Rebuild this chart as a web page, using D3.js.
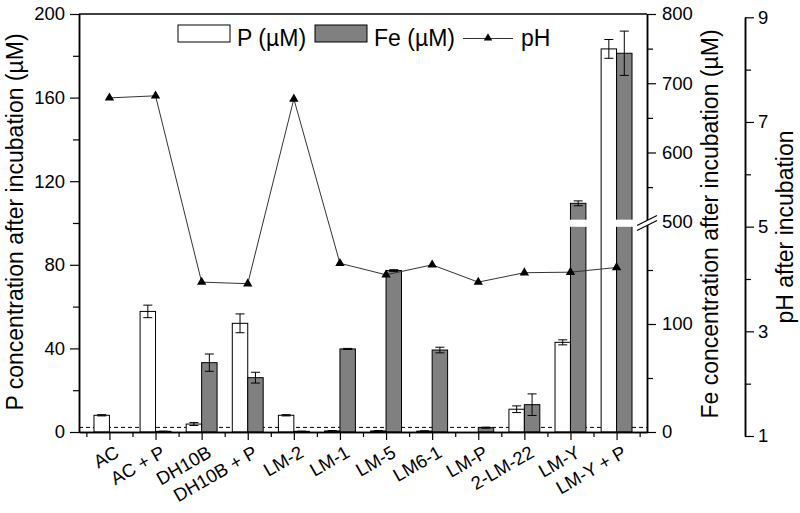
<!DOCTYPE html>
<html>
<head>
<meta charset="utf-8">
<script src="https://cdn.jsdelivr.net/npm/d3@7"></script>
<style>
  body { margin: 0; background: #fff; }
  text { font-family: "Liberation Sans", Arial, sans-serif; fill: #000; }
</style>
</head>
<body>
<svg width="800" height="513"></svg>
<script>
// data
var categories = ["AC", "AC + P", "DH10B", "DH10B + P", "LM-2", "LM-1", "LM-5", "LM6-1", "LM-P", "2-LM-22", "LM-Y", "LM-Y + P"];
var pValues = [8.0, 57.7, 3.8, 52.0, 8.0, 0.5, 0.5, 0.4, 0, 10.9, 42.9, 183.3];
var pErrors = [0.3, 3.0, 0.7, 4.5, 0.3, 0.2, 0.2, 0.2, 0, 1.6, 1.2, 4.5];
var feValues = [0, 0.6, 64.2, 50.3, 0.6, 76.9, 149.5, 75.9, 4.0, 25.3, 526.6, 743.3];
var feErrors = [0, 0.2, 8.0, 5.0, 0.2, 0.5, 0.8, 2.6, 0.5, 10.0, 3.5, 32.0];
var phValues = [7.46, 7.50, 3.94, 3.91, 7.44, 4.30, 4.08, 4.27, 3.94, 4.12, 4.13, 4.22];
var detectionLimit = 2.2;

var pTicks = [0, 40, 80, 120, 160, 200];
var pMinor = [20, 60, 100, 140, 180];
var feTicks = [0, 100, 500, 600, 700, 800];
var feMinor = [50, 150, 550, 650, 750];
var phTicks = [1, 3, 5, 7, 9];
var phMinor = [2, 4, 6, 8];

// plot box (named so they don't clash with window.top)
var plotL = 79, plotR = 647, plotT = 14, plotB = 432;
var barW = 0.335;

var svg = d3.select("svg");

var x = d3.scaleLinear().domain([-0.66, 11.66]).range([plotL, plotR]);
var yP = d3.scaleLinear().domain([0, 200]).range([plotB, plotT]);
// broken Fe axis: 0-190 below the break, 495-800 above
var yFe = d3.scaleLinear().domain([0, 190, 495, 800]).range([plotB, 226.8, 225.2, plotT]);
var yPh = d3.scaleLinear().domain([1, 9]).range([436, 17.3]);

var idx = d3.range(categories.length);

// dashed line
svg.append("line")
  .attr("x1", plotL).attr("x2", plotR)
  .attr("y1", yP(detectionLimit)).attr("y2", yP(detectionLimit))
  .attr("stroke", "#000").attr("stroke-width", 1)
  .attr("stroke-dasharray", "4,3");

// P bars
svg.selectAll(".pbar")
  .data(idx)
  .enter()
  .append("rect")
  .attr("class", "pbar")
  .attr("x", function (i) { return x(i - barW); })
  .attr("y", function (i) { return yP(pValues[i]); })
  .attr("width", function (i) { return x(i) - x(i - barW); })
  .attr("height", function (i) { return plotB - yP(pValues[i]); })
  .attr("fill", "#fff")
  .attr("stroke", function (i) { return pValues[i] > 0 ? "#000" : "none"; })
  .attr("stroke-width", 1);

// Fe bars
svg.selectAll(".febar")
  .data(idx)
  .enter()
  .append("rect")
  .attr("class", "febar")
  .attr("x", function (i) { return x(i); })
  .attr("y", function (i) { return yFe(feValues[i]); })
  .attr("width", function (i) { return x(i + barW) - x(i); })
  .attr("height", function (i) { return plotB - yFe(feValues[i]); })
  .attr("fill", "#808080")
  .attr("stroke", function (i) { return feValues[i] > 0 ? "#000" : "none"; })
  .attr("stroke-width", 1);

// error bars
function errBar(cx, yLo, yHi) {
  var g = svg.append("g").attr("stroke", "#000").attr("stroke-width", 1);
  g.append("line").attr("x1", cx).attr("x2", cx).attr("y1", yLo).attr("y2", yHi);
  g.append("line").attr("x1", cx - 4.5).attr("x2", cx + 4.5).attr("y1", yLo).attr("y2", yLo);
  g.append("line").attr("x1", cx - 4.5).attr("x2", cx + 4.5).attr("y1", yHi).attr("y2", yHi);
}
idx.forEach(function (i) {
  if (pValues[i] > 0) {
    errBar((x(i - barW) + x(i)) / 2, yP(pValues[i] - pErrors[i]), yP(pValues[i] + pErrors[i]));
  }
  if (feValues[i] > 0) {
    errBar((x(i) + x(i + barW)) / 2, yFe(feValues[i] - feErrors[i]), yFe(feValues[i] + feErrors[i]));
  }
});

// white gap across Fe bars that cross the break
idx.filter(function (i) { return feValues[i] > 495; }).forEach(function (i) {
  svg.append("rect")
    .attr("x", x(i) - 1)
    .attr("y", yFe(503))
    .attr("width", x(i + barW) - x(i) + 2)
    .attr("height", yFe(190) - yFe(503))
    .attr("fill", "#fff");
});

// pH line
var line = d3.line()
  .x(function (i) { return x(i); })
  .y(function (i) { return yPh(phValues[i]); });
svg.append("path")
  .datum(idx)
  .attr("d", line)
  .attr("fill", "none")
  .attr("stroke", "#333")
  .attr("stroke-width", 1);
svg.selectAll(".phpt")
  .data(idx)
  .enter()
  .append("path")
  .attr("class", "phpt")
  .attr("transform", function (i) { return "translate(" + x(i) + "," + yPh(phValues[i]) + ")"; })
  .attr("d", d3.symbol().type(d3.symbolTriangle).size(38))
  .attr("fill", "#000");

// frame: top line
svg.append("line")
  .attr("x1", plotL).attr("x2", plotR).attr("y1", plotT).attr("y2", plotT)
  .attr("stroke", "#000").attr("stroke-width", 1.5);

// left P axis
var pAxis = svg.append("g").attr("transform", "translate(" + plotL + ",0)");
pAxis.call(d3.axisLeft(yP).tickValues(pTicks).tickSize(9).tickPadding(5).tickSizeOuter(0));
pAxis.append("g").call(d3.axisLeft(yP).tickValues(pMinor).tickSize(6).tickFormat("").tickSizeOuter(0));

// bottom x axis
var xAxis = svg.append("g").attr("transform", "translate(0," + plotB + ")");
xAxis.call(d3.axisBottom(x).tickValues(idx).tickSize(8).tickFormat("").tickSizeOuter(0));
xAxis.append("g").call(d3.axisBottom(x).tickValues(d3.range(-0.5, 12, 1)).tickSize(5).tickFormat("").tickSizeOuter(0));
xAxis.selectAll(".tickLabel")
  .data(idx)
  .enter()
  .append("text")
  .attr("class", "tickLabel")
  .attr("transform", function (i) { return "translate(" + (x(i) + 11) + ",24)rotate(-30)"; })
  .attr("text-anchor", "end")
  .style("font-size", "18.5px")
  .text(function (i) { return categories[i]; });

// right Fe axis
var feAxis = svg.append("g").attr("transform", "translate(" + plotR + ",0)");
feAxis.call(d3.axisRight(yFe).tickValues(feTicks).tickSize(9).tickPadding(6).tickSizeOuter(0));
feAxis.append("g").call(d3.axisRight(yFe).tickValues(feMinor).tickSize(6).tickFormat("").tickSizeOuter(0));
feAxis.selectAll(".tick").filter(function (d) { return d === 500; }).select("line").remove();

// break symbol on Fe axis
var by = 223.5;
svg.append("path")
  .attr("d", "M" + (plotR - 10) + "," + (by + 2) + "L" + (plotR + 10) + "," + (by - 8) +
    "L" + (plotR + 10) + "," + (by - 3) + "L" + (plotR - 10) + "," + (by + 7) + "Z")
  .attr("fill", "#fff");
svg.append("line")
  .attr("x1", plotR - 10).attr("y1", by + 2).attr("x2", plotR + 10).attr("y2", by - 8)
  .attr("stroke", "#000").attr("stroke-width", 1.2);
svg.append("line")
  .attr("x1", plotR - 10).attr("y1", by + 7).attr("x2", plotR + 10).attr("y2", by - 3)
  .attr("stroke", "#000").attr("stroke-width", 1.2);

// pH axis
var phAxis = svg.append("g").attr("transform", "translate(745,0)");
phAxis.call(d3.axisRight(yPh).tickValues(phTicks).tickSize(9).tickPadding(4).tickSizeOuter(0));
phAxis.append("g").call(d3.axisRight(yPh).tickValues(phMinor).tickSize(6).tickFormat("").tickSizeOuter(0));

svg.selectAll(".domain").attr("stroke-width", 1.5);
svg.selectAll(".tick line").attr("stroke-width", 1.2);
svg.selectAll(".tick text").style("font-size", "18.5px");

// axis titles
svg.append("text")
  .attr("transform", "translate(23,222)rotate(-90)")
  .attr("text-anchor", "middle")
  .style("font-size", "23px")
  .text("P concentration after incubation (\u00b5M)");
svg.append("text")
  .attr("transform", "translate(718,224)rotate(-90)")
  .attr("text-anchor", "middle")
  .style("font-size", "23px")
  .text("Fe concentration after incubation (\u00b5M)");
svg.append("text")
  .attr("transform", "translate(793,227)rotate(-90)")
  .attr("text-anchor", "middle")
  .style("font-size", "23px")
  .text("pH after incubation");

// legend
var legend = svg.append("g");
legend.append("rect").attr("x", 178).attr("y", 25).attr("width", 52).attr("height", 17)
  .attr("fill", "#fff").attr("stroke", "#000");
legend.append("text").attr("x", 237).attr("y", 46).style("font-size", "23px").text("P (\u00b5M)");
legend.append("rect").attr("x", 315).attr("y", 25).attr("width", 52).attr("height", 17)
  .attr("fill", "#808080").attr("stroke", "#000");
legend.append("text").attr("x", 374).attr("y", 46).style("font-size", "23px").text("Fe (\u00b5M)");
legend.append("line").attr("x1", 463).attr("x2", 513).attr("y1", 38.5).attr("y2", 38.5)
  .attr("stroke", "#333").attr("stroke-width", 1);
legend.append("path").attr("transform", "translate(488,38)")
  .attr("d", d3.symbol().type(d3.symbolTriangle).size(30)).attr("fill", "#000");
legend.append("text").attr("x", 521).attr("y", 46).style("font-size", "23px").text("pH");
</script>
</body>
</html>
